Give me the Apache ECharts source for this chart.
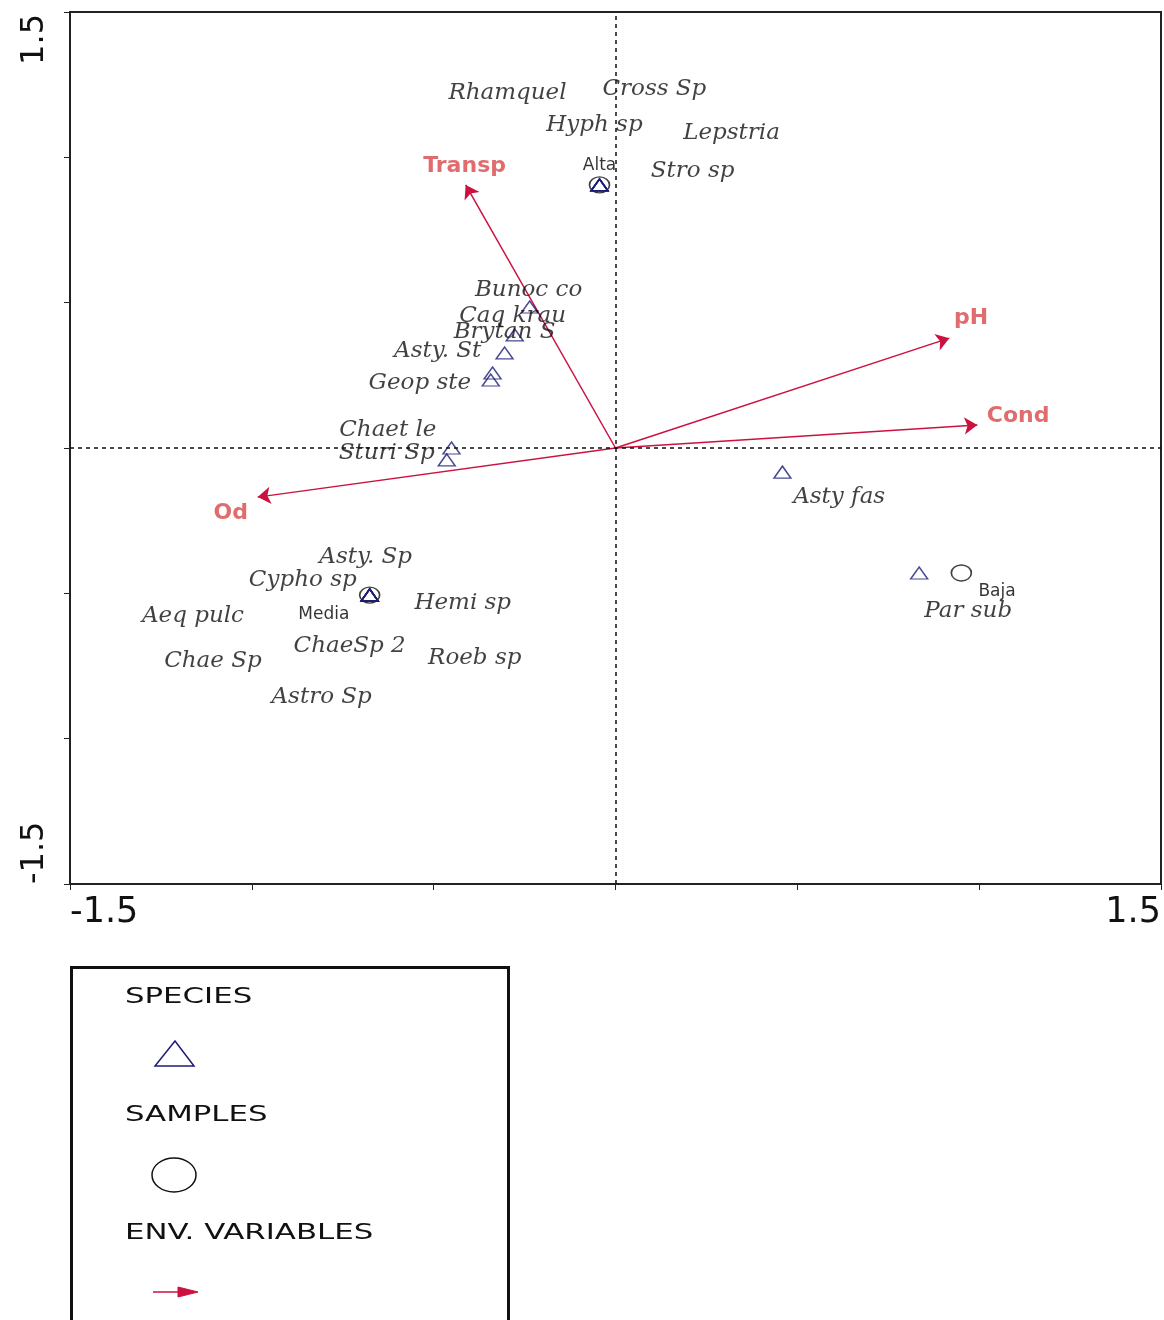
<!DOCTYPE html>
<html>
<head>
<meta charset="utf-8">
<style>
  html, body { margin: 0; padding: 0; background: #fff; }
  #chart { width: 1164px; height: 1320px; }
</style>
<script src="https://cdn.jsdelivr.net/npm/echarts@6/dist/echarts.min.js"></script>
</head>
<body>
<div id="chart"></div>
<script>
// ---------- DATA ----------
const xTickLabels = ['-1.5', '1.5'];
const yTickLabels = ['-1.5', '1.5'];

const speciesNames = ['Rhamquel', 'Cross Sp', 'Hyph sp', 'Lepstria', 'Stro sp',
  'Bunoc co', 'Caq krau', 'Brytan S', 'Asty. St', 'Geop ste', 'Chaet le', 'Sturi Sp',
  'Asty fas', 'Par sub',
  'Asty. Sp', 'Cypho sp', 'Hemi sp', 'Aeq pulc', 'ChaeSp 2', 'Chae Sp', 'Roeb sp', 'Astro Sp'];
const speciesX = [-0.044, -0.044, -0.044, -0.044, -0.044,
  -0.236, -0.277, -0.305, -0.338, -0.343, -0.451, -0.464,
  0.459, 0.835,
  -0.676, -0.676, -0.676, -0.676, -0.676, -0.676, -0.676, -0.676];
const speciesY = [0.905, 0.905, 0.905, 0.905, 0.905,
  0.485, 0.389, 0.327, 0.258, 0.234, 0.000, -0.041,
  -0.083, -0.430,
  -0.506, -0.506, -0.506, -0.506, -0.506, -0.506, -0.506, -0.506];
// label anchor (text centre) of each species name, in axis units
const speciesLabelX = [-0.297, 0.107, -0.058, 0.319, 0.212,
  -0.239, -0.283, -0.305, -0.489, -0.538, -0.626, -0.629,
  0.615, 0.970,
  -0.687, -0.860, -0.420, -1.162, -0.731, -1.107, -0.387, -0.808];
const speciesLabelY = [1.221, 1.235, 1.111, 1.084, 0.953,
  0.544, 0.454, 0.399, 0.334, 0.224, 0.062, -0.017,
  -0.169, -0.561,
  -0.375, -0.454, -0.533, -0.578, -0.681, -0.733, -0.722, -0.857];

const sampleNames = ['Alta', 'Media', 'Baja'];
const sampleX = [-0.044, -0.676, 0.951];
const sampleY = [0.905, -0.506, -0.430];
const sampleLabelX = [-0.044, -0.802, 1.049];
const sampleLabelY = [0.970, -0.574, -0.495];

const envNames = ['Transp', 'pH', 'Cond', 'Od'];
const envX = [-0.412, 0.918, 0.995, -0.984];
const envY = [0.905, 0.378, 0.079, -0.169];
const envLabelX = [-0.415, 0.978, 1.107, -1.058];
const envLabelY = [0.970, 0.447, 0.110, -0.224];

const legendItems = ['SPECIES', 'SAMPLES', 'ENV. VARIABLES'];

// ---------- STYLE ----------
const NAVY = '#1c1c78';
const RED = '#cc1140';
const RED_TEXT = '#d9474a';

const chart = echarts.init(document.getElementById('chart'));

const labelSeries = (names, xs, ys, labelStyle) => ({
  type: 'scatter',
  silent: true,
  symbol: 'circle',
  symbolSize: 2,
  itemStyle: { color: 'rgba(255,255,255,0)', borderWidth: 0 },
  z: 5,
  data: names.map((n, i) => ({ name: n, value: [xs[i], ys[i]] })),
  label: Object.assign({
    show: true, position: 'inside', formatter: p => p.name,
    textBorderWidth: 0, textBorderColor: 'transparent'
  }, labelStyle)
});

const option = {
  animation: false,
  backgroundColor: '#fff',
  grid: {
    left: 70, right: 2, top: 12, bottom: 436,
    show: true, borderColor: '#222', borderWidth: 2, backgroundColor: 'transparent'
  },
  xAxis: {
    type: 'value', min: -1.5, max: 1.5, interval: 0.5,
    axisLine: { onZero: false, lineStyle: { color: '#222', width: 2 } },
    axisTick: { show: true, length: 6, lineStyle: { color: '#222', width: 1 } },
    splitLine: { show: false },
    axisLabel: {
      customValues: [-1.5, 1.5],
      formatter: v => (v < 0 ? xTickLabels[0] : xTickLabels[1]),
      alignMinLabel: 'left', alignMaxLabel: 'right',
      fontFamily: 'DejaVu Sans', fontSize: 35, color: '#111', margin: 11
    }
  },
  yAxis: {
    type: 'value', min: -1.5, max: 1.5, interval: 0.5,
    axisLine: { onZero: false, lineStyle: { color: '#222', width: 2 } },
    axisTick: { show: true, length: 6, lineStyle: { color: '#222', width: 1 } },
    splitLine: { show: false },
    axisLabel: { show: false }
  },
  series: [
    {
      type: 'scatter', name: 'zero', silent: true, data: [],
      markLine: {
        silent: true, symbol: 'none', label: { show: false },
        lineStyle: { color: '#111', type: [4, 4], width: 1.5 },
        data: [{ xAxis: 0 }, { yAxis: 0 }]
      }
    },
    {
      type: 'lines', coordinateSystem: 'cartesian2d', silent: true, z: 3,
      symbol: ['none', 'arrow'], symbolSize: 13,
      lineStyle: { color: RED, width: 1.5, opacity: 1 },
      data: envNames.map((n, i) => ({ name: n, coords: [[0, 0], [envX[i], envY[i]]] }))
    },
    {
      type: 'scatter', name: 'SAMPLES', silent: true, z: 4,
      symbol: 'circle', symbolSize: [20, 16],
      itemStyle: { color: 'rgba(0,0,0,0)', borderColor: '#111', borderWidth: 1.5 },
      data: sampleNames.map((n, i) => ({ name: n, value: [sampleX[i], sampleY[i]] }))
    },
    {
      type: 'scatter', name: 'SPECIES', silent: true, z: 4,
      symbol: 'triangle', symbolSize: [17, 12],
      itemStyle: { color: 'rgba(0,0,0,0)', borderColor: NAVY, borderWidth: 1.4 },
      data: speciesNames.map((n, i) => ({ name: n, value: [speciesX[i], speciesY[i]] }))
    },
    labelSeries(speciesNames, speciesLabelX, speciesLabelY,
      { fontFamily: 'DejaVu Serif', fontStyle: 'italic', fontSize: 23, color: '#111' }),
    labelSeries(sampleNames, sampleLabelX, sampleLabelY,
      { fontFamily: 'DejaVu Sans', fontSize: 17, color: '#000' }),
    labelSeries(envNames, envLabelX, envLabelY,
      { fontFamily: 'DejaVu Sans', fontWeight: 'bold', fontSize: 22, color: RED_TEXT })
  ]
};
chart.setOption(option);

// y tick labels (rotated) placed through the axis scale
const yTop = chart.convertToPixel({ gridIndex: 0 }, [-1.5, 1.5])[1];
const yBot = chart.convertToPixel({ gridIndex: 0 }, [-1.5, -1.5])[1];

const lx = 70, ly = 966;
chart.setOption({
  graphic: [
    { type: 'text', x: 35, y: yTop + 2, rotation: Math.PI / 2,
      style: { text: yTickLabels[1], font: '32px "DejaVu Sans"', fill: '#111', align: 'right', verticalAlign: 'middle' } },
    { type: 'text', x: 35, y: yBot, rotation: Math.PI / 2,
      style: { text: yTickLabels[0], font: '32px "DejaVu Sans"', fill: '#111', align: 'left', verticalAlign: 'middle' } },
    // legend box
    { type: 'rect', shape: { x: lx + 1.5, y: ly + 1.5, width: 437, height: 360 },
      style: { fill: '#fff', stroke: '#111', lineWidth: 3 } },
    { type: 'text', x: 125, y: 997, scaleX: 1.4,
      style: { text: legendItems[0], font: '22px "DejaVu Sans"', fill: '#111', verticalAlign: 'middle' } },
    { type: 'polygon', shape: { points: [[175, 1041], [155, 1066], [194, 1066]] },
      style: { fill: 'none', stroke: NAVY, lineWidth: 1.5 } },
    { type: 'text', x: 125, y: 1115, scaleX: 1.4,
      style: { text: legendItems[1], font: '22px "DejaVu Sans"', fill: '#111', verticalAlign: 'middle' } },
    { type: 'ellipse', shape: { cx: 174, cy: 1175, rx: 22, ry: 17 },
      style: { fill: 'none', stroke: '#111', lineWidth: 1.5 } },
    { type: 'text', x: 125, y: 1233, scaleX: 1.4,
      style: { text: legendItems[2], font: '22px "DejaVu Sans"', fill: '#111', verticalAlign: 'middle' } },
    { type: 'line', shape: { x1: 153, y1: 1292, x2: 190, y2: 1292 },
      style: { stroke: RED, lineWidth: 1.5 } },
    { type: 'polygon', shape: { points: [[178, 1287], [198, 1292], [178, 1297]] },
      style: { fill: RED, stroke: RED } }
  ]
});
</script>
</body>
</html>
